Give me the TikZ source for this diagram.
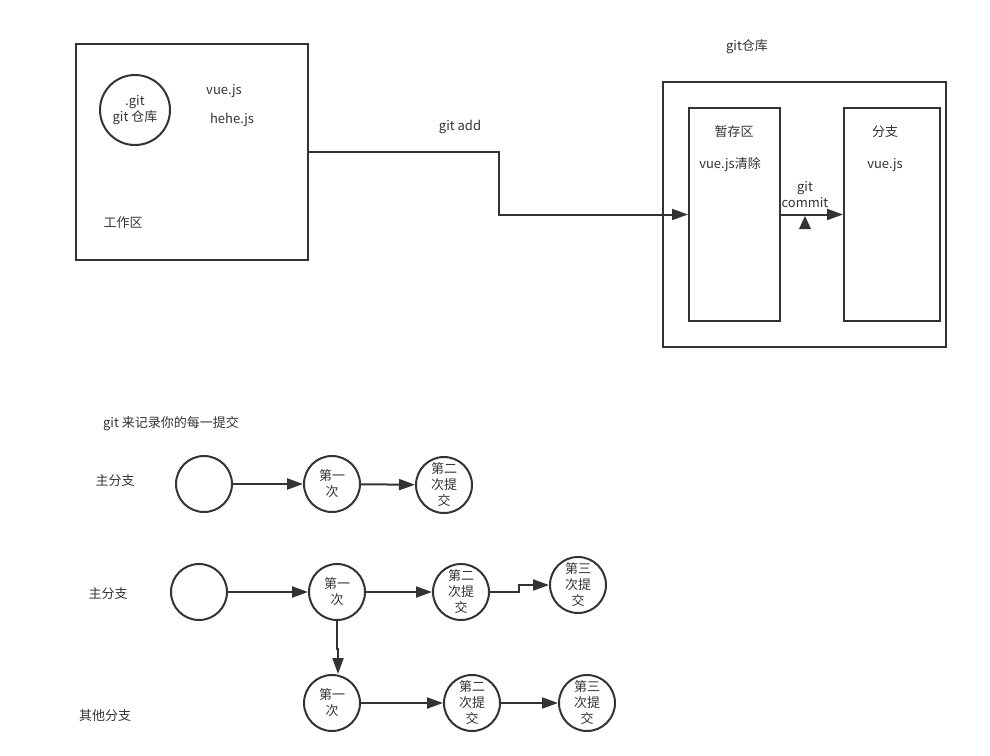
\documentclass[tikz,border=0pt]{standalone}
\usepackage{fontspec}
\setmainfont{Noto Sans CJK SC}
\usepackage{xcolor}
\definecolor{ink}{RGB}{51,51,51}
\usetikzlibrary{arrows.meta}
\tikzset{>={Triangle[length=16pt,width=11pt]}}
\tikzset{
  area/.style={draw=ink,line width=2pt,rectangle,inner sep=0pt},
  commit/.style={draw=ink,line width=2pt,circle,minimum size=56pt,inner sep=0pt,align=center},
  flow/.style={->,draw=ink,line width=2pt}
}

\begin{document}
\begin{tikzpicture}[x=1pt,y=-1pt,font=\fontsize{13}{16}\selectfont,text=ink]
    \useasboundingbox (0,0) rectangle (990,755);
    % workspace
    \node[area,minimum width=232pt,minimum height=216pt](work) at (192,152) {};
    \node[commit,minimum size=70pt](gitdir) at (135,110) {.git\\git 仓库};
    \node(vuejs) at (224,91) {vue.js};
    \node(hehejs) at (232,120) {hehe.js};
    \node(worklabel) at (123,223) {工作区};
    % repository
    \node(repolabel) at (747,47) {git仓库};
    \node[area,minimum width=283pt,minimum height=265pt](repo) at (804.5,214.5) {};
    \node[area,minimum width=91pt,minimum height=213pt](stage) at (734.5,214.5) {};
    \node[area,minimum width=96pt,minimum height=213pt](branch) at (892,214.5) {};
    \node(stagelabel) at (734,132) {暂存区};
    \node(stagefile) at (730,165) {vue.js清除};
    \node(branchlabel) at (885,132) {分支};
    \node(branchfile) at (885,165) {vue.js};
    \node(addlabel) at (460,127) {git add};
    \node[align=center](commitlabel) at (805,195) {git\\commit};
    \draw[flow] (work.east) -- ++(190,0) |- (stage.west);
    \draw[flow] (stage.east) -- (branch.west);
    \fill[ink] (799,229) -- (811,229) -- (805,216) -- cycle;
    % commits
    \node(title) at (171,424) {git 来记录你的每一提交};
    \node(mainA) at (115,481) {主分支};
    \node(mainB) at (108,594) {主分支};
    \node(other) at (105,716) {其他分支};
    \node[commit](r1a) at (204,484) {};
    \node[commit](r1b) at (332,484) {第一\\次};
    \node[commit](r1c) at (444,485) {第二\\次提\\交};
    \node[commit](r2a) at (199,592) {};
    \node[commit](r2b) at (337,592) {第一\\次};
    \node[commit](r2c) at (461,592) {第二\\次提\\交};
    \node[commit](r2d) at (578,585) {第三\\次提\\交};
    \node[commit](r3a) at (332,703) {第一\\次};
    \node[commit](r3b) at (472,703) {第二\\次提\\交};
    \node[commit](r3c) at (587,703) {第三\\次提\\交};
    \draw[flow] (r1a) -- (r1b);
    \draw[flow] (r1b) -- (r1c);
    \draw[flow] (r2a) -- (r2b);
    \draw[flow] (r2b) -- (r2c);
    \draw[flow] (r2c.east) -- ++(29,0) |- (r2d.west);
    \draw[flow] (r2b.south) -- ++(0,28) -| ([xshift=6pt]r3a.north);
    \draw[flow] (r3a) -- (r3b);
    \draw[flow] (r3b) -- (r3c);
\end{tikzpicture}
\end{document}
